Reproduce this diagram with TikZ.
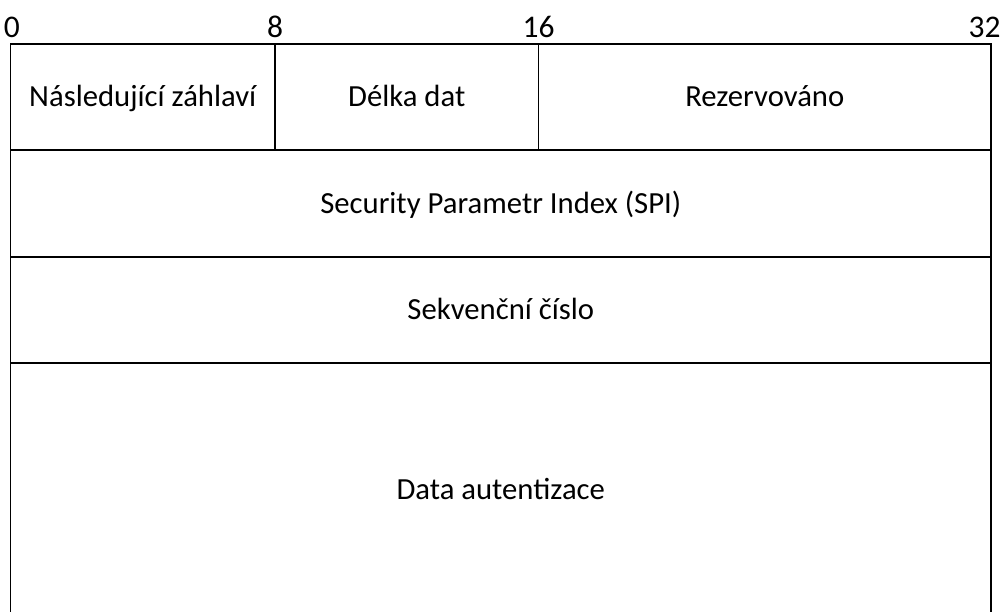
\documentclass[tikz,border=0pt]{standalone}
\usepackage{fontspec}
\setmainfont{Carlito}
\usetikzlibrary{positioning}

\begin{document}
\begin{tikzpicture}[x=1pt,y=1pt,every node/.style={draw,rectangle,inner sep=0,outer sep=0,line width=1.8pt,
text height=24pt,text depth=4pt,font=\fontsize{30.7}{36}\selectfont},
bit/.style={draw=none,text height=,text depth=,font=\fontsize{31.5}{36}\selectfont}]
\useasboundingbox (0,0) rectangle (1001,612);
\clip (0,0) rectangle (1001,612);

\node[minimum width=264.5,minimum height=106,anchor=north west] (next) at (10.5,568) {Následující záhlaví};
\node[minimum width=263.5,minimum height=106,right=0pt of next] (len) {Délka dat};
\node[minimum width=452.5,minimum height=106,right=0pt of len] (res) {Rezervováno};

\node[minimum width=980.5,minimum height=107,anchor=north west] (spi) at (next.south west) {Security Parametr Index (SPI)};
\node[minimum width=980.5,minimum height=106,anchor=north west] (seq) at (spi.south west) {Sekvenční číslo};
\node[minimum width=980.5,minimum height=254,anchor=north west] (auth) at (seq.south west) {Data autentizace};

% bit offsets
\node[bit,anchor=base west] (b0) at (4,574) {0};
\node[bit,anchor=base] (b8) at (next.north east |- 0,574) {8};
\node[bit,anchor=base] (b16) at (len.north east |- 0,574) {16};
\node[bit,anchor=base east] (b32) at (1000.5,574) {32};

\end{tikzpicture}
\end{document}
